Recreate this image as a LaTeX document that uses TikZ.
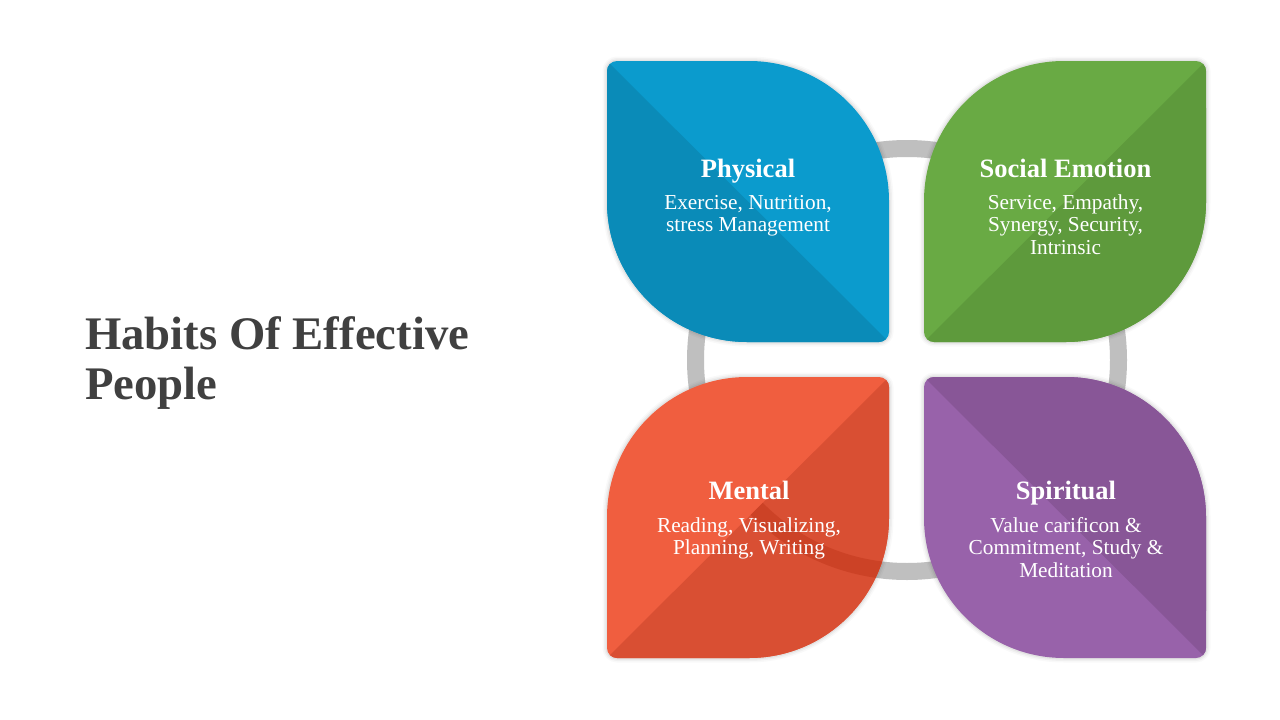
\documentclass[tikz,border=0pt]{standalone}
\usepackage{fontspec}
\setmainfont{Liberation Serif}
\definecolor{blueL}{HTML}{0B9BCD}
\definecolor{blueD}{HTML}{0A8BB8}
\definecolor{greenL}{HTML}{69AA44}
\definecolor{greenD}{HTML}{5E9A3C}
\definecolor{redL}{HTML}{F05E3F}
\definecolor{redD}{HTML}{D94F33}
\definecolor{redArc}{HTML}{CC4226}
\definecolor{purpL}{HTML}{9862AA}
\definecolor{purpD}{HTML}{885697}
\definecolor{ringC}{HTML}{BFBFBF}
\definecolor{titleC}{HTML}{404040}
\def\Rb{140}\def\kRb{77.32}\def\rs{10}\def\krs{5.52}
% type A: big corners top-right and bottom-left
\newcommand\leafA[4]{(#1+\rs,#2) -- (#3-\Rb,#2) .. controls (#3-\Rb+\kRb,#2) and (#3,#2+\Rb-\kRb) .. (#3,#2+\Rb) -- (#3,#4-\rs) .. controls (#3,#4-\rs+\krs) and (#3-\rs+\krs,#4) .. (#3-\rs,#4) -- (#1+\Rb,#4) .. controls (#1+\Rb-\kRb,#4) and (#1,#4-\Rb+\kRb) .. (#1,#4-\Rb) -- (#1,#2+\rs) .. controls (#1,#2+\rs-\krs) and (#1+\rs-\krs,#2) .. (#1+\rs,#2) -- cycle}
% type B: big corners top-left and bottom-right
\newcommand\leafB[4]{(#1+\Rb,#2) -- (#3-\rs,#2) .. controls (#3-\rs+\krs,#2) and (#3,#2+\rs-\krs) .. (#3,#2+\rs) -- (#3,#4-\Rb) .. controls (#3,#4-\Rb+\kRb) and (#3-\Rb+\kRb,#4) .. (#3-\Rb,#4) -- (#1+\rs,#4) .. controls (#1+\rs-\krs,#4) and (#1,#4-\rs+\krs) .. (#1,#4-\rs) -- (#1,#2+\Rb) .. controls (#1,#2+\Rb-\kRb) and (#1+\Rb-\kRb,#2) .. (#1+\Rb,#2) -- cycle}
\tikzset{
  ttl/.style={text=white, font=\fontsize{26.5}{30}\selectfont\bfseries, anchor=base, inner sep=0pt},
  body/.style={text=white, font=\fontsize{21.3}{22.5}\selectfont, align=center, anchor=base, inner sep=0pt},
}
\begin{document}
\begin{tikzpicture}[x=1pt,y=-1pt]
\useasboundingbox (0,0) rectangle (1280,720);
\fill[white] (0,0) rectangle (1280,720);

% title (base anchor = baseline of last line)
\node[anchor=base west, align=left, inner sep=0pt, text=titleC,
      font=\fontsize{46.7}{50}\selectfont\bfseries] (title) at (85,399)
      {Habits Of Effective\\People};

% ring
\draw[ringC, line width=17pt] (907,360) circle (211.5);

% soft shadows
\foreach \w/\o in {9/0.025,6/0.035,3/0.05}{
  \draw[black, opacity=\o, line width=\w pt] \leafA{607}{61}{889}{342};
  \draw[black, opacity=\o, line width=\w pt] \leafB{924}{61}{1206}{342};
  \draw[black, opacity=\o, line width=\w pt] \leafB{607}{377}{889}{658};
  \draw[black, opacity=\o, line width=\w pt] \leafA{924}{377}{1206}{658};
}

% Physical (blue)
\begin{scope}
  \clip \leafA{607}{61}{889}{342};
  \fill[blueL] (600,55) rectangle (895,350);
  \fill[blueD] (607,61) -- (889,342) -- (600,350) -- cycle;
\end{scope}
% Social Emotion (green)
\begin{scope}
  \clip \leafB{924}{61}{1206}{342};
  \fill[greenL] (918,55) rectangle (1212,350);
  \fill[greenD] (924,342) -- (1206,61) -- (1212,350) -- cycle;
\end{scope}
% Mental (red)
\begin{scope}
  \clip \leafB{607}{377}{889}{658};
  \fill[redL] (600,370) rectangle (895,665);
  \fill[redD] (607,658) -- (889,377) -- (895,665) -- cycle;
  \clip (607,658) -- (889,377) -- (895,665) -- cycle;
  \draw[redArc, line width=17pt] (907,360) circle (211.5);
\end{scope}
% Spiritual (purple)
\begin{scope}
  \clip \leafA{924}{377}{1206}{658};
  \fill[purpL] (918,370) rectangle (1212,665);
  \fill[purpD] (924,377) -- (1206,658) -- (1212,370) -- cycle;
\end{scope}

% texts (body nodes anchored on the baseline of their last line)
\node[ttl] (phyT) at (748,177.7) {Physical};
\node[body] (phyB) at (748,231.5) {Exercise, Nutrition,\\stress Management};

\node[ttl] (socT) at (1065.5,177.7) {Social Emotion};
\node[body] (socB) at (1065.5,254) {Service, Empathy,\\Synergy, Security,\\Intrinsic};

\node[ttl] (menT) at (749,499) {Mental};
\node[body] (menB) at (749,554.5) {Reading, Visualizing,\\Planning, Writing};

\node[ttl] (spiT) at (1066,499) {Spiritual};
\node[body] (spiB) at (1066,577) {Value carificon \&\\Commitment, Study \&\\Meditation};
\end{tikzpicture}
\end{document}
